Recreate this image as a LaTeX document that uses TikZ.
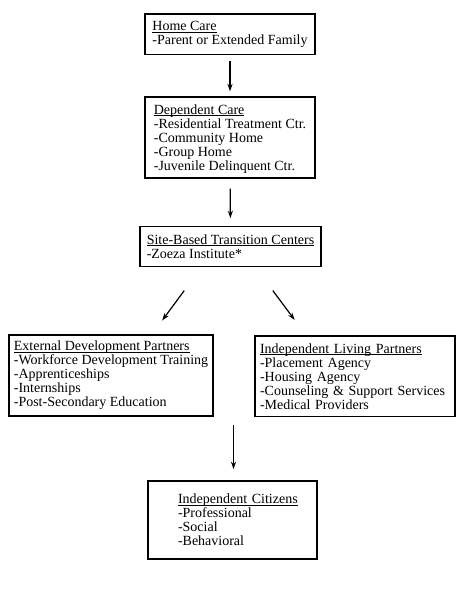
\documentclass[tikz,border=0pt]{standalone}
\usepackage{fontspec}
\setmainfont{Liberation Serif}
\usetikzlibrary{arrows.meta}
\newcommand{\heading}[1]{\setbox0\hbox{#1}\rlap{\rule[-1.8pt]{\wd0}{0.6pt}}\box0}
\begin{document}
\begin{tikzpicture}[x=1pt,y=-1pt,>={Stealth[length=7.5pt,width=5pt]},
  box/.style={draw,line width=1.6pt,align=left,inner xsep=0pt,inner ysep=0pt,
    font=\fontsize{14}{14}\selectfont}]
\useasboundingbox (0,0) rectangle (459,591);
\node[box,minimum width=170pt,minimum height=40.5pt] (home) at (230,34.25)
  {\heading{Home Care}\\-Parent or Extended Family};
\node[box,minimum width=170pt,minimum height=80.5pt] (dep) at (230,137.5)
  {\heading{\rule{0pt}{12pt}Dependent Care}\\-Residential Treatment Ctr.\\-Community Home\\-Group Home\\-Juvenile Delinquent Ctr.};
\node[box,minimum width=181pt,minimum height=40pt] (site) at (230.5,246.5)
  {\heading{Site-Based Transition Centers}\\-Zoeza Institute*};
\node[box,minimum width=204pt,minimum height=81pt] (ext) at (111,375.5)
  {\heading{External Development Partners}\\-Workforce Development Training\\-Apprenticeships\\-Internships\\-Post-Secondary Education};
\node[box,text width=190pt,inner xsep=5pt,minimum height=80.5pt] (living) at (355,376.25)
  {\heading{Independent Living Partners}\\-Placement Agency\\-Housing Agency\\-Counseling \& Support Services\\-Medical Providers};
\node[box,text width=109pt,inner xsep=30pt,minimum height=78pt] (citizen) at (232.5,520)
  {\heading{Independent Citizens}\\-Professional\\-Social\\-Behavioral};
\coordinate (join) at (233.5,425);
\path[draw,very thick,->,shorten <=6pt,shorten >=5pt] (home) -- (dep);
\path[draw,very thick,->,shorten <=10pt,shorten >=7.5pt] (dep) -- (site);
\path[draw,very thick,->,shorten <=29pt,shorten >=17pt] ([xshift=-29pt]site.south) -- ([xshift=41pt]ext.north);
\path[draw,very thick,->,shorten <=29pt,shorten >=19pt] ([xshift=25pt]site.south) -- ([xshift=-49pt]living.north);
\path[draw,very thick,->,shorten >=11pt] (join) -- (join |- citizen.north);
\end{tikzpicture}
\end{document}
